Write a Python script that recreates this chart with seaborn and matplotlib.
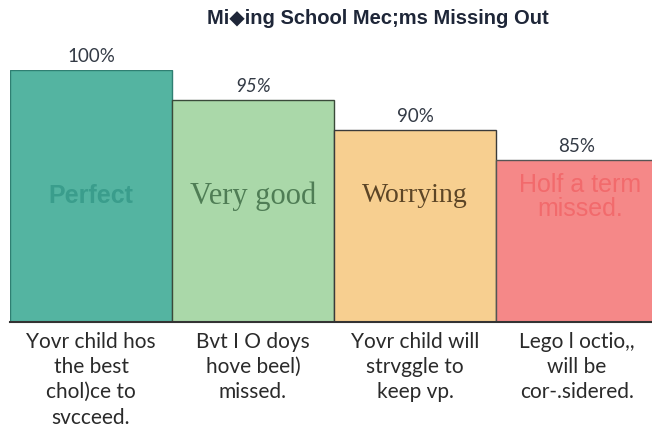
import matplotlib
matplotlib.use("Agg")
import matplotlib.pyplot as plt
import seaborn as sns
import pandas as pd

categories = ["Perfect", "Very good", "Worrying", "Holf a term\nmissed."]
values = [100, 95, 90, 85]
value_labels = ["100%", "95%", "90%", "85%"]
descriptions = [
    "Yovr child hos\nthe best\nchol)ce to\nsvcceed.",
    "Bvt I O doys\nhove beel)\nmissed.",
    "Yovr child will\nstrvggle to\nkeep vp.",
    "Lego l octio,,\nwill be\ncor-.sidered.",
]
title = "Mi\u25c6ing School Mec;ms Missing Out"

colors = ["#54b4a1", "#aad8a9", "#f7cf90", "#f58888"]
text_colors = ["#3a9d8c", "#4f7d55", "#5c4526", "#f26a6c"]

sns.set_theme(style="white")
plt.rcParams["font.family"] = ["Lato", "DejaVu Sans"]

df = pd.DataFrame({"cat": categories, "val": values})

fig = plt.figure(figsize=(6.52, 4.32), dpi=100)
ax = fig.add_axes([10 / 652, 110 / 432, 648 / 652, 252 / 432])
sns.barplot(data=df, x="cat", y="val", hue="cat", palette=colors, width=1.0,
            saturation=1, legend=False, ax=ax, edgecolor="#333333", linewidth=1.0)
for p, ec in zip(ax.patches, ["#2f7f72", "#3a4a3a", "#3a3a3a", "#555555"]):
    p.set_edgecolor(ec)

ax.set_ylim(58, 100)
ax.set_xlim(-0.5, 3.5)
ax.set_yticks([])
ax.set_ylabel("")
ax.set_xlabel("")
for s in ["left", "right", "top"]:
    ax.spines[s].set_visible(False)
ax.spines["bottom"].set_color("#333333")
ax.spines["bottom"].set_linewidth(1.5)

ax.set_xticks(range(4))
ax.set_xticklabels(descriptions, fontsize=15, color="#2a2a2a", linespacing=1.33,
                   va="top")
ax.tick_params(axis="x", length=0, pad=7)

# value labels
styles = ["normal", "italic", "normal", "normal"]
for i, (v, lab) in enumerate(zip(values, value_labels)):
    ax.text(i, v + 0.8, lab, ha="center", va="bottom", fontsize=13.5,
            color="#333a45", style=styles[i], clip_on=False)

# inside labels
ax.text(0, 79.0, categories[0], ha="center", va="center", fontsize=18,
        fontweight="bold", color=text_colors[0],
        family=["Liberation Sans", "DejaVu Sans"])
ax.text(1, 79.0, categories[1], ha="center", va="center", fontsize=22,
        color=text_colors[1], family=["Liberation Serif", "DejaVu Serif"])
ax.text(2, 79.0, categories[2], ha="center", va="center", fontsize=20,
        color=text_colors[2], family=["Liberation Serif", "DejaVu Serif"])
ax.text(3.02, 78.8, categories[3], ha="center", va="center", fontsize=18,
        color=text_colors[3], linespacing=1.0,
        family=["Liberation Sans", "DejaVu Sans"], clip_on=True)

fig.text(378 / 652, 1 - 19 / 432, title, ha="center", va="center",
         fontsize=14.5, fontweight="bold", color="#1e2638",
         family=["Liberation Sans", "DejaVu Sans"])

fig.savefig("out.png", dpi=100, facecolor="white")
